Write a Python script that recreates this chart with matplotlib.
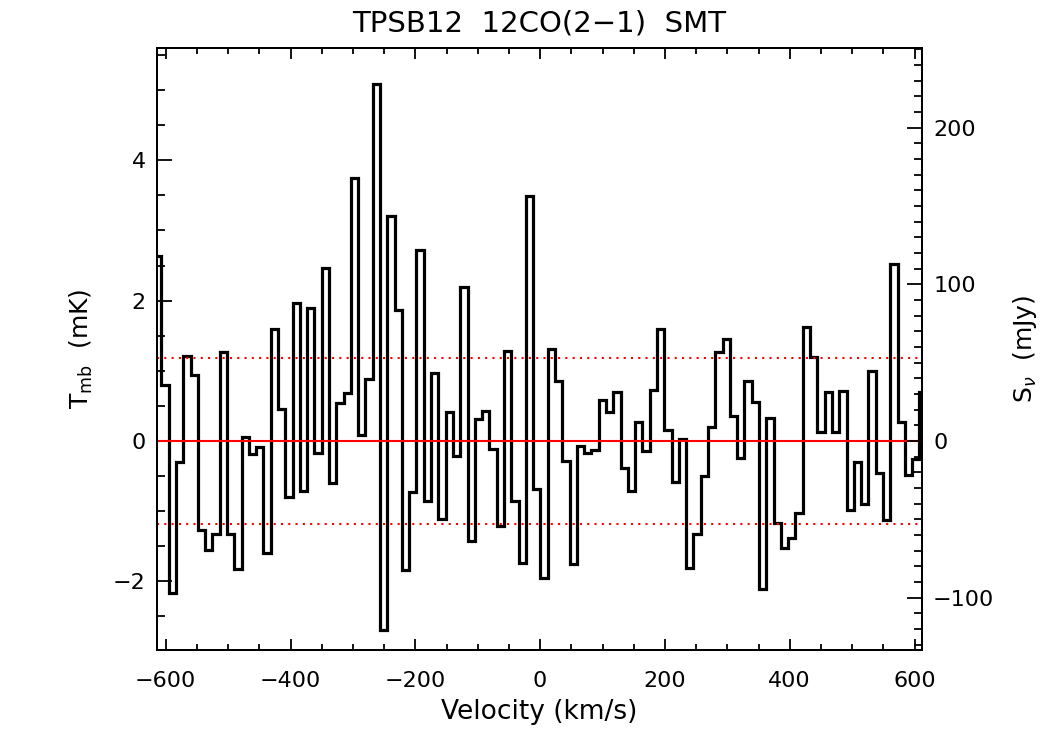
import numpy as np
import matplotlib
matplotlib.use("Agg")
import matplotlib.pyplot as plt
from matplotlib.ticker import MultipleLocator

plt.rcParams['font.family'] = ['DejaVu Sans']
plt.rcParams['mathtext.fontset'] = 'dejavusans'

# channel values (mK)
tmb = [2.63, 0.80, -2.17, -0.30, 1.21, 0.94, -1.27, -1.55, -1.32, 1.27,
       -1.32, -1.83, 0.06, -0.18, -0.08, -1.60, 1.59, 0.45, -0.80, 1.97,
       -0.72, 1.89, -0.17, 2.46, -0.60, 0.54, 0.69, 3.75, 0.085, 0.88,
       5.08, -2.70, 3.20, 1.86, -1.84, -0.73, 2.72, -0.86, 0.97, -1.11,
       0.41, -0.21, 2.19, -1.42, 0.31, 0.42, -0.12, -1.21, 1.28, -0.85,
       -1.74, 3.49, -0.69, -1.96, 1.31, 0.85, -0.28, -1.76, -0.07, -0.17,
       -0.13, 0.59, 0.41, 0.70, -0.39, -0.72, 0.27, -0.14, 0.72, 1.59,
       0.15, -0.58, 0.03, -1.81, -1.32, -0.50, 0.20, 1.27, 1.45, 0.35,
       -0.24, 0.85, 0.55, -2.11, 0.33, -1.17, -1.53, -1.39, -1.03, 1.62,
       1.20, 0.13, 0.70, 0.13, 0.71, -0.99, -0.30, -0.90, 0.99, -0.45,
       -1.13, 2.52, 0.27, -0.48, -0.26, 0.70]

v_start = -618.6     # left edge of first channel (km/s)
dv = 11.68           # channel width (km/s)
rms = 1.18           # mK
jy_per_k = 44.8      # mJy per mK

edges = v_start + dv * np.arange(len(tmb) + 1)

fig = plt.figure(figsize=(10.5, 7.5), dpi=100)
ax = fig.add_axes([0.1495, 0.1333, 0.7286, 0.8027])

ax.stairs(tmb, edges, baseline=None, color='black', linewidth=2.3)
ax.axhline(0, color='red', linewidth=1.5)
ax.axhline(rms, color='red', linewidth=1.5, linestyle=(0, (1, 2.5)))
ax.axhline(-rms, color='red', linewidth=1.5, linestyle=(0, (1, 2.5)))

ax.set_xlim(-614, 612)
ax.set_ylim(-2.98, 5.6)

ax.xaxis.set_major_locator(MultipleLocator(200))
ax.xaxis.set_minor_locator(MultipleLocator(50))
ax.yaxis.set_major_locator(MultipleLocator(2))
ax.yaxis.set_minor_locator(MultipleLocator(0.5))
ax.tick_params(axis='x', which='both', direction='in', top=True, bottom=True,
               labelsize=16, width=1.3, pad=15)
ax.tick_params(axis='x', which='major', length=8)
ax.tick_params(axis='x', which='minor', length=4)
ax.tick_params(axis='y', which='both', direction='in', left=True, right=False,
               labelsize=16, width=1.3, pad=8)
ax.tick_params(axis='y', which='major', length=11)
ax.tick_params(axis='y', which='minor', length=5.5)
for s in ax.spines.values():
    s.set_linewidth(1.4)

ax.set_xlabel('Velocity (km/s)', fontsize=19, labelpad=6)
ax.set_ylabel('T$_{\\mathrm{mb}}$  (mK)', fontsize=18, labelpad=13)
ax.set_title('TPSB12  12CO(2\u22121)  SMT', fontsize=21, pad=12)

ax2 = ax.twinx()
ax2.set_ylim(-2.98 * jy_per_k, 5.6 * jy_per_k)
ax2.yaxis.set_major_locator(MultipleLocator(100))
ax2.yaxis.set_minor_locator(MultipleLocator(10))
ax2.tick_params(axis='y', which='both', direction='in', labelsize=16, width=1.3, pad=8)
ax2.tick_params(axis='y', which='major', length=11)
ax2.tick_params(axis='y', which='minor', length=5.5)
ax2.set_ylabel('S$_\\nu$  (mJy)', fontsize=18, labelpad=12)
for s in ax2.spines.values():
    s.set_linewidth(1.4)

fig.savefig('out.png', dpi=100)
